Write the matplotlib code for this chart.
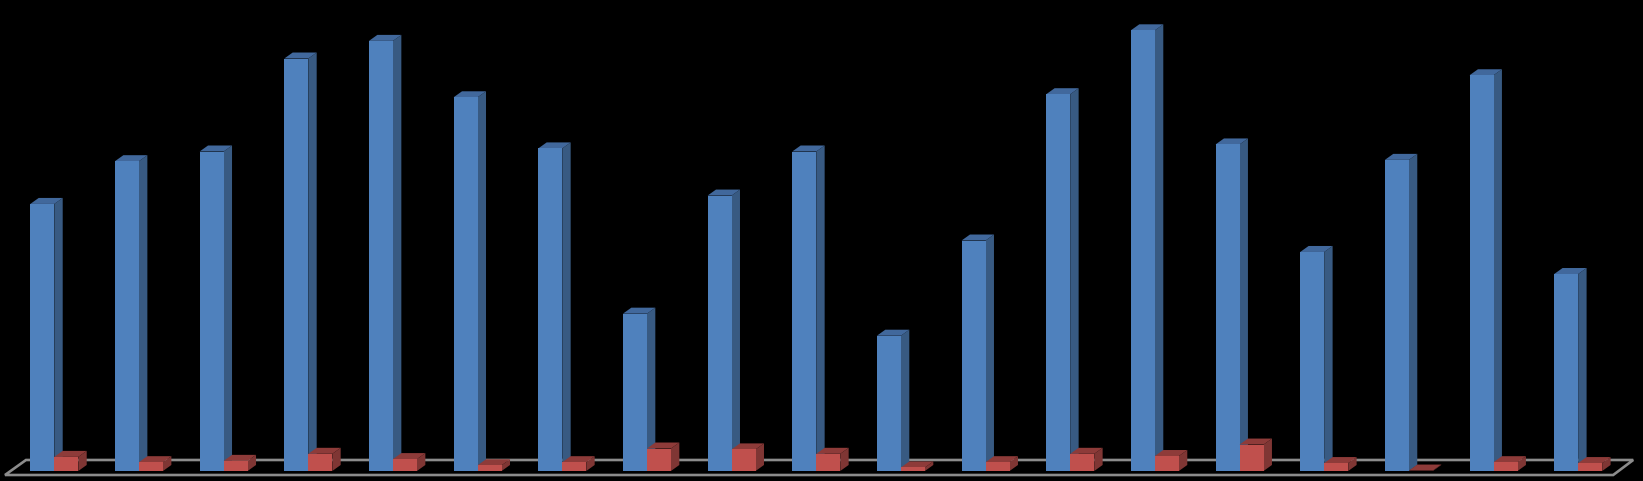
import numpy as np
import matplotlib
matplotlib.use("Agg")
import matplotlib.pyplot as plt
from matplotlib.patches import Polygon

blue_values = [60.6, 70.3, 72.5, 93.6, 97.6, 84.8, 73.2, 35.7, 62.5, 72.5,
               30.7, 52.3, 85.5, 100.0, 74.1, 49.7, 70.6, 89.8, 44.7]
red_values = [3.2, 2.0, 2.3, 3.9, 2.7, 1.3, 2.0, 5.1, 4.9, 3.9,
              0.8, 2.0, 3.9, 3.4, 6.0, 1.8, 0.1, 2.0, 1.8]

W, H = 1643, 481
PITCH = 84.65     # px per category
UNIT = 4.405      # px per value unit
BASE_PX = 471     # baseline, px from top
X0_PX = 54.3      # first category centre
BAR_W = 24 / PITCH
DX, DY = 8.4 / PITCH, 6 / UNIT

fig = plt.figure(figsize=((W + 0.2) / 100, (H + 0.2) / 100), dpi=100, facecolor="black")
ax = fig.add_axes([0, 0, 1, 1], facecolor="black")
ax.set_xlim(-X0_PX / PITCH, (W - X0_PX) / PITCH)
ax.set_ylim(-(H - BASE_PX) / UNIT, BASE_PX / UNIT)
ax.axis("off")


def xp(px):
    return (px - X0_PX) / PITCH


def yp(px):
    return (BASE_PX - px) / UNIT


# floor outline
floor = Polygon([(xp(5), yp(475)), (xp(1613), yp(475)), (xp(1633), yp(460)), (xp(26), yp(460))],
                closed=True, fill=False, edgecolor="#8c8c8c", linewidth=1.9, zorder=1)
ax.add_patch(floor)


def bar3d(x_left, val, front, side, top, z):
    ax.bar(x_left, val, width=BAR_W, align="edge", color=front, linewidth=0, zorder=z + 0.2)
    r = x_left + BAR_W
    ax.add_patch(Polygon([(r, 0), (r + DX, DY), (r + DX, val + DY), (r, val)],
                         closed=True, facecolor=side, edgecolor="none", zorder=z))
    ax.add_patch(Polygon([(x_left, val), (r, val), (r + DX, val + DY), (x_left + DX, val + DY)],
                         closed=True, facecolor=top, edgecolor="none", zorder=z + 0.1))


for i, (b, r) in enumerate(zip(blue_values, red_values)):
    bar3d(i - BAR_W, b, "#4f81bd", "#385a82", "#41689c", 2 + i * 0.01)
    bar3d(i, r, "#c0504d", "#7f3634", "#8e3b39", 3 + i * 0.01)

fig.savefig("out.png", dpi=100, facecolor="black")
